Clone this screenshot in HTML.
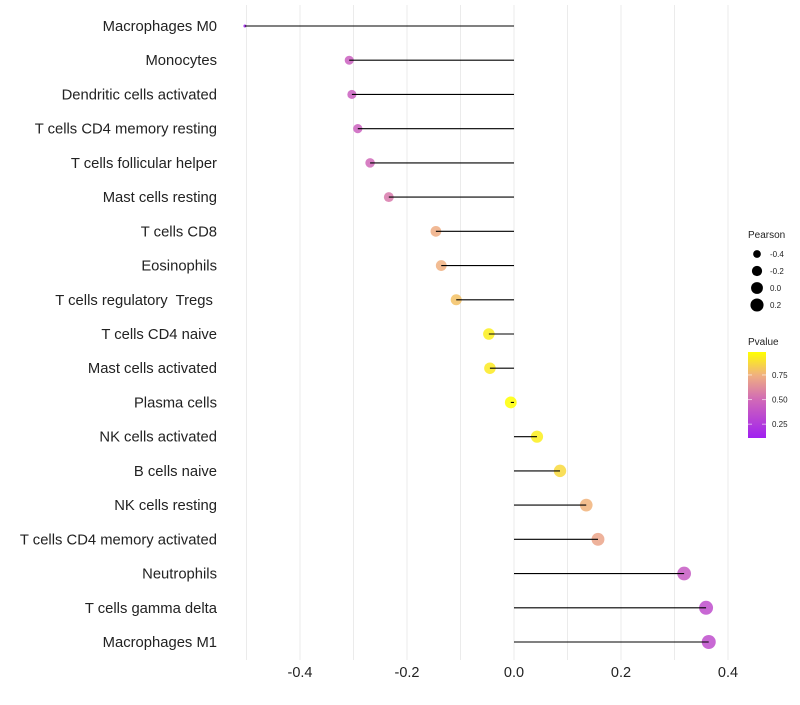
<!DOCTYPE html>
<html><head><meta charset="utf-8"><style>
body{margin:0;background:#fff;font-family:"Liberation Sans",sans-serif}
</style></head><body>
<svg id="c" width="800" height="700" xmlns="http://www.w3.org/2000/svg"></svg>
<script>
const categories=["Macrophages M0","Monocytes","Dendritic cells activated","T cells CD4 memory resting","T cells follicular helper","Mast cells resting","T cells CD8","Eosinophils","T cells regulatory\u00a0 Tregs\u00a0","T cells CD4 naive","Mast cells activated","Plasma cells","NK cells activated","B cells naive","NK cells resting","T cells CD4 memory activated","Neutrophils","T cells gamma delta","Macrophages M1"];
const pearson=[-0.503,-0.308,-0.303,-0.292,-0.269,-0.234,-0.146,-0.136,-0.108,-0.047,-0.045,-0.006,0.043,0.086,0.135,0.157,0.318,0.359,0.364];
const pvalues=[0.05,0.45,0.45,0.46,0.50,0.56,0.74,0.75,0.80,0.93,0.92,0.99,0.93,0.87,0.76,0.71,0.42,0.35,0.35];
const xTicks=[-0.4,-0.2,0.0,0.2,0.4];
const xGrid=[-0.5,-0.4,-0.3,-0.2,-0.1,0,0.1,0.2,0.3,0.4];
const sizeLegend=[-0.4,-0.2,0.0,0.2];
const colorLegend=[0.25,0.50,0.75];

const svg=document.getElementById('c');
const NS="http://www.w3.org/2000/svg";
const x=v=>514+v*535;
const y=i=>26+i*(616/18);
const r=v=>1.5+5.5*Math.pow(Math.max(0,(v+0.503)/0.867),0.4);
function col(p){
  const stops=[[0.1,[160,32,240]],[0.5,[208,104,184]],[0.75,[240,176,128]],[0.98,[255,255,0]]];
  if(p<=stops[0][0])return `rgb(${stops[0][1]})`;
  for(let k=1;k<stops.length;k++){if(p<=stops[k][0]){const a=stops[k-1],b=stops[k],t=(p-a[0])/(b[0]-a[0]);return `rgb(${a[1].map((c,j)=>Math.round(c+(b[1][j]-c)*t))})`;}}
  return 'rgb(255,255,0)';
}
function el(t,a,txt){const e=document.createElementNS(NS,t);for(const k in a)e.setAttribute(k,a[k]);if(txt!==undefined)e.textContent=txt;svg.appendChild(e);return e;}
xGrid.forEach(g=>{const e=el('line',{x1:x(g),x2:x(g),y1:5,y2:660,stroke:'#ebebeb','stroke-width':1});

});
xTicks.forEach(t=>{const e=el('text',{x:x(t),y:677,'text-anchor':'middle','font-size':14.5,fill:'#222'},t.toFixed(1));

});
categories.forEach((c,i)=>{
  const lb=el('text',{x:217,y:y(i)+5,'text-anchor':'end','font-size':14.8,fill:'#222'},c);
  
  
  const d=el('circle',{cx:x(pearson[i]),cy:y(i),r:r(pearson[i]),fill:col(pvalues[i]),'fill-opacity':0.85});
  
  
  const l=el('line',{x1:x(0),x2:x(pearson[i]),y1:y(i),y2:y(i),stroke:'#000','stroke-width':1.1});
  
  
});
let t=el('text',{x:748,y:238,'font-size':10,fill:'#222'},'Pearson');


sizeLegend.forEach((v,k)=>{const cy=254+k*17;
 const c=el('circle',{cx:757,cy:cy,r:r(v),fill:'#000'});
 
 
 const tt=el('text',{x:770,y:cy+3,'font-size':8,fill:'#222'},v.toFixed(1));
 
 });
t=el('text',{x:748,y:345,'font-size':10,fill:'#222'},'Pvalue');


const defs=el('defs',{});
defs.innerHTML='<linearGradient id="g" x1="0" y1="1" x2="0" y2="0"><stop offset="0" stop-color="rgb(160,32,240)"/><stop offset="0.44" stop-color="rgb(208,104,184)"/><stop offset="0.73" stop-color="rgb(240,176,128)"/><stop offset="1" stop-color="rgb(255,255,0)"/></linearGradient>';
const bar=el('rect',{x:748,y:352,width:18,height:86,fill:'url(#g)'});


colorLegend.forEach(v=>{const cy=437-(v-0.12)*98.5;
 const tt=el('text',{x:772,y:cy+3,'font-size':8,fill:'#222'},v.toFixed(2));
 
 
 el('line',{x1:748,x2:752,y1:cy,y2:cy,stroke:'#fff','stroke-opacity':0.6});
 el('line',{x1:762,x2:766,y1:cy,y2:cy,stroke:'#fff','stroke-opacity':0.6});});
</script>
</body></html>
